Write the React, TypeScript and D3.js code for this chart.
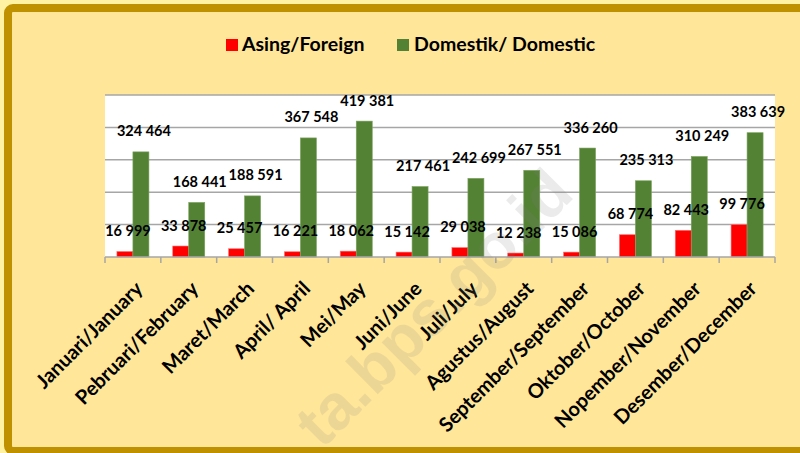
import React from "react";
import * as d3 from "d3";

const months = [
  "Januari/January",
  "Pebruari/February",
  "Maret/March",
  "April/ April",
  "Mei/May",
  "Juni/June",
  "Juli/July",
  "Agustus/August",
  "September/September",
  "Oktober/October",
  "Nopember/November",
  "Desember/December",
];
const foreign = [16999, 33878, 25457, 16221, 18062, 15142, 29038, 12238, 15086, 68774, 82443, 99776];
const domestic = [324464, 168441, 188591, 367548, 419381, 217461, 242699, 267551, 336260, 235313, 310249, 383639];
const seriesNames = ["Asing/Foreign", "Domestik/ Domestic"];
const gridValues = [100000, 200000, 300000, 400000, 500000];

const W = 800;
const H = 453;
const FONT = "Lato, 'Open Sans', sans-serif";

function fmt(v: number) {
  return d3.format(",")(v).replace(/,/g, " ");
}

export default function App() {
  const left = 105, right = 775, top = 95, bottom = 257;
  const x = d3.scaleBand<string>().domain(months).range([left, right]).padding(0);
  const y = d3.scaleLinear().domain([0, 500000]).range([bottom, top]);
  const bw = 16;
  const boundaries = months.map((m) => x(m)!).concat([right]);

  return (
    <svg width={W} height={H} style={{ position: "absolute", left: 0, top: 0 }}>
      <rect x={0} y={0} width={W} height={H} fill="#FFF3A3" />
      <rect x={8} y={8} width={W + 20} height={443} rx={5} fill="#FFE699" stroke="#BF9000" strokeWidth={8} />
      {/* legend */}
      <g fontFamily={FONT} fontWeight="bold" fontSize={19.5} fill="#000">
        <rect x={226} y={39} width={12} height={12} fill="#FF0000" />
        <text x={242} y={51}>{seriesNames[0]}</text>
        <rect x={397} y={39} width={12} height={12} fill="#548235" />
        <text x={414} y={51}>{seriesNames[1]}</text>
      </g>
      {/* plot area */}
      <rect x={left} y={top} width={right - left} height={bottom - top} fill="#FFFFFF" />
      {gridValues.map((v) => (
        <line key={v} x1={left} x2={right} y1={y(v)} y2={y(v)} stroke="#A6A6A6" strokeWidth={1.5} />
      ))}
      {months.map((m, i) => {
        const c = x(m)! + x.bandwidth() / 2;
        return (
          <g key={m}>
            <rect x={c - bw} y={y(foreign[i])} width={bw} height={bottom - y(foreign[i])} fill="#FF0000" stroke="#FF6F6F" strokeWidth={0.6} />
            <rect x={c} y={y(domestic[i])} width={bw} height={bottom - y(domestic[i])} fill="#548235" stroke="#7AA35C" strokeWidth={0.6} />
          </g>
        );
      })}
      <line x1={left} x2={right} y1={bottom} y2={bottom} stroke="#A6A6A6" strokeWidth={1.5} />
      {boundaries.map((bx, i) => (
        <line key={i} x1={bx} x2={bx} y1={bottom} y2={bottom + 6} stroke="#A6A6A6" strokeWidth={1.5} />
      ))}
      {/* data labels */}
      <g fontFamily={FONT} fontWeight="bold" fontSize={14.5} fill="#000" textAnchor="middle">
        {months.map((m, i) => {
          const c = x(m)! + x.bandwidth() / 2;
          return (
            <g key={m}>
              <text x={c - bw / 2 + 3} y={y(foreign[i]) - 15.5}>{fmt(foreign[i])}</text>
              <text x={c + bw / 2 + 3} y={y(domestic[i]) - 15.5}>{fmt(domestic[i])}</text>
            </g>
          );
        })}
      </g>
      {/* axis labels */}
      <g fontFamily={FONT} fontWeight="bold" fontSize={20} fill="#000" textAnchor="end">
        {months.map((m) => {
          const c = x(m)! + x.bandwidth() / 2;
          const ax = c + 11, ay = 290;
          return (
            <text key={m} x={ax} y={ay} transform={`rotate(-45 ${ax} ${ay})`}>{m}</text>
          );
        })}
      </g>
      {/* watermark */}
      <text x={322} y={450} transform="rotate(-45 322 450)" fontFamily="'Liberation Sans', Arial, sans-serif" fontWeight="bold" fontSize={64} fill="#7F7F7F" opacity={0.15}>
        ta.bps.go.id
      </text>
    </svg>
  );
}
